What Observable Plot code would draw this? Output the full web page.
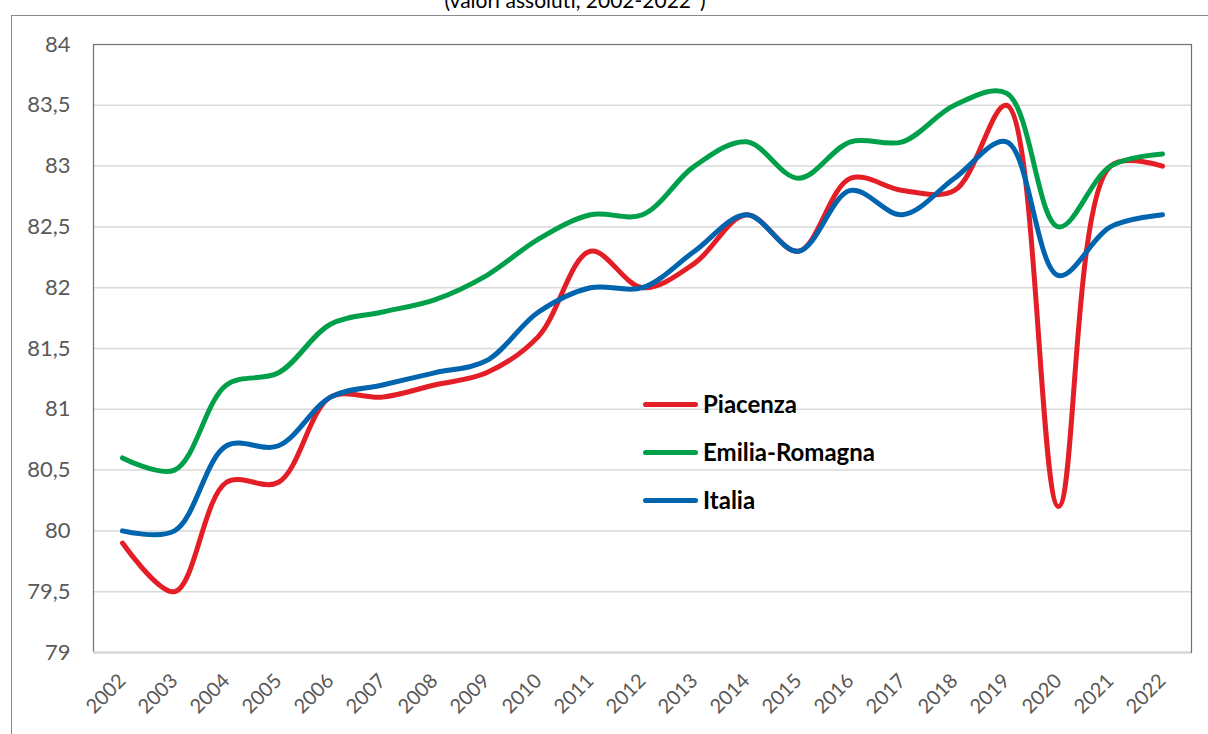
<!DOCTYPE html>
<html>
<head>
<meta charset="utf-8">
<script src="https://cdn.jsdelivr.net/npm/d3@7"></script>
<script src="https://cdn.jsdelivr.net/npm/@observablehq/plot@0.6"></script>
<style>
  html, body { margin: 0; padding: 0; width: 1208px; height: 734px; overflow: hidden; background: #fff; font-family: Lato, "Open Sans", sans-serif; }
  #frame { position: absolute; left: 11px; top: 15px; width: 1400px; height: 900px; border: 1.5px solid #8a8a8a; box-sizing: border-box; }
  #title { position: absolute; left: 0; width: 1150px; top: -13px; text-align: center; font-size: 21px; color: #000; }
  #chart { position: absolute; left: 0; top: 0; }
  #legend { position: absolute; left: 643px; top: 380px; }
  .row { display: flex; align-items: center; height: 48px; }
  .row .sw { width: 55px; height: 5px; border-radius: 3px; margin-right: 5px; }
  .row .lb { font-weight: bold; font-size: 24px; color: #000; line-height: 26px; }
</style>
</head>
<body>
<div id="frame"></div>
<div id="title"></div>
<div id="chart"></div>
<div id="legend"></div>
<script>
const titleText = "(valori assoluti, 2002-2022*)";
const years = ["2002","2003","2004","2005","2006","2007","2008","2009","2010","2011","2012","2013","2014","2015","2016","2017","2018","2019","2020","2021","2022"];
const seriesNames = ["Piacenza", "Emilia-Romagna", "Italia"];
const piacenza = [79.9, 79.5, 80.4, 80.4, 81.1, 81.1, 81.2, 81.3, 81.6, 82.3, 82.0, 82.2, 82.6, 82.3, 82.9, 82.8, 82.8, 83.5, 80.2, 83.0, 83.0];
const emilia   = [80.6, 80.5, 81.2, 81.3, 81.7, 81.8, 81.9, 82.1, 82.4, 82.6, 82.6, 83.0, 83.2, 82.9, 83.2, 83.2, 83.5, 83.6, 82.5, 83.0, 83.1];
const italia   = [80.0, 80.0, 80.7, 80.7, 81.1, 81.2, 81.3, 81.4, 81.8, 82.0, 82.0, 82.3, 82.6, 82.3, 82.8, 82.6, 82.9, 83.2, 82.1, 82.5, 82.6];
const yTicks = [79, 79.5, 80, 80.5, 81, 81.5, 82, 82.5, 83, 83.5, 84];

const colors = ["#e41e26", "#00a04a", "#0064ae"];
const valuesBySeries = [piacenza, emilia, italia];

const rows = [];
seriesNames.forEach((s, i) => {
  valuesBySeries[i].forEach((v, j) => rows.push({series: s, year: years[j], value: v}));
});

const fmt = d => String(d).replace(".", ",");

const chart = Plot.plot({
  width: 1208,
  height: 734,
  marginLeft: 93,
  marginRight: 17,
  marginTop: 44,
  marginBottom: 82,
  style: {fontFamily: "Lato, 'Open Sans', sans-serif", background: "transparent", color: "#595959"},
  x: {type: "point", domain: years, padding: 0.5, label: null},
  y: {domain: [79, 84], label: null},
  color: {domain: seriesNames, range: colors},
  marks: [
    Plot.ruleY(yTicks.filter(d => d > 79 && d < 84), {stroke: "#d9d9d9", strokeWidth: 1.5}),
    Plot.frame({stroke: "#707070", strokeWidth: 1.2}),
    Plot.ruleY([79], {stroke: "#d9d9d9", strokeWidth: 2.5}),
    Plot.axisY({ticks: yTicks, tickSize: 0, tickPadding: 23, fontSize: 22, tickFormat: fmt, label: null}),
    Plot.axisX({tickRotate: -45, tickSize: 0, tickPadding: 25, fontSize: 20, label: null}),
    Plot.line(rows, {x: "year", y: "value", z: "series", stroke: "series", curve: "catmull-rom", strokeWidth: 5, strokeLinecap: "round", strokeLinejoin: "round"})
  ]
});
document.getElementById("chart").appendChild(chart);

document.getElementById("title").textContent = titleText;
const legend = document.getElementById("legend");
seriesNames.forEach((s, i) => {
  const row = document.createElement("div");
  row.className = "row";
  const sw = document.createElement("div");
  sw.className = "sw";
  sw.style.background = colors[i];
  const lb = document.createElement("div");
  lb.className = "lb";
  lb.textContent = s;
  row.appendChild(sw);
  row.appendChild(lb);
  legend.appendChild(row);
});
</script>
</body>
</html>
